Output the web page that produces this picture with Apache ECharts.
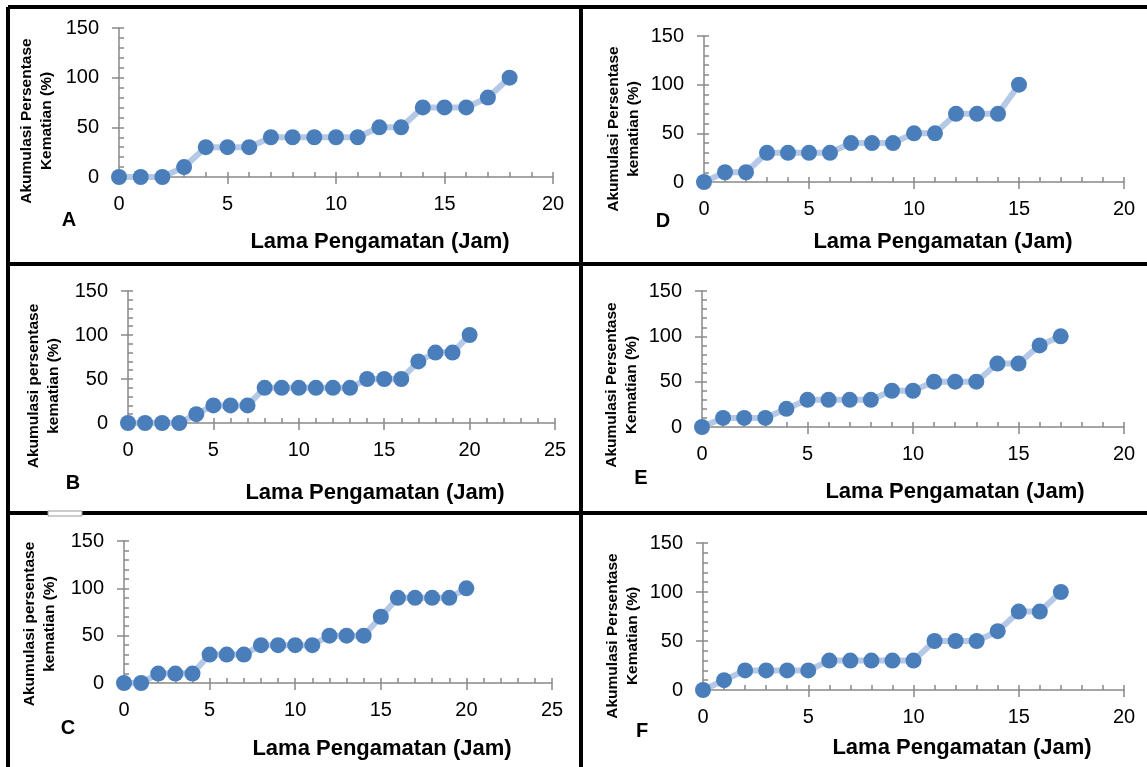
<!DOCTYPE html>
<html><head><meta charset="utf-8">
<script src="https://cdn.jsdelivr.net/npm/echarts@6/dist/echarts.min.js"></script>
<style>html,body{margin:0;padding:0;background:#fff}#c{width:1147px;height:767px}</style>
</head><body><div id="c"></div>
<script>
// ---- data ----
const hoursA = [0,1,2,3,4,5,6,7,8,9,10,11,12,13,14,15,16,17,18];
const deathA = [0,0,0,10,30,30,30,40,40,40,40,40,50,50,70,70,70,80,100];
const hoursB = [0,1,2,3,4,5,6,7,8,9,10,11,12,13,14,15,16,17,18,19,20];
const deathB = [0,0,0,0,10,20,20,20,40,40,40,40,40,40,50,50,50,70,80,80,100];
const hoursC = [0,1,2,3,4,5,6,7,8,9,10,11,12,13,14,15,16,17,18,19,20];
const deathC = [0,0,10,10,10,30,30,30,40,40,40,40,50,50,50,70,90,90,90,90,100];
const hoursD = [0,1,2,3,4,5,6,7,8,9,10,11,12,13,14,15];
const deathD = [0,10,10,30,30,30,30,40,40,40,50,50,70,70,70,100];
const hoursE = [0,1,2,3,4,5,6,7,8,9,10,11,12,13,14,15,16,17];
const deathE = [0,10,10,10,20,30,30,30,30,40,40,50,50,50,70,70,90,100];
const hoursF = [0,1,2,3,4,5,6,7,8,9,10,11,12,13,14,15,16,17];
const deathF = [0,10,20,20,20,20,30,30,30,30,30,50,50,50,60,80,80,100];

const panelLetters = ['A','B','C','D','E','F'];
const xAxisMax = [20,25,25,20,20,20];
const yAxisMax = [150,150,150,150,150,150];
const xTickStep = 5;
const yTickStep = 50;
const xTitle = 'Lama Pengamatan (Jam)';
const yTitles = [
  'Akumulasi Persentase\nKematian (%)',
  'Akumulasi persentase\nkematian (%)',
  'Akumulasi persentase\nkematian (%)',
  'Akumulasi Persentase\nkematian (%)',
  'Akumulasi Persentase\nKematian (%)',
  'Akumulasi Persentase\nKematian (%)'
];
const hoursAll = [hoursA,hoursB,hoursC,hoursD,hoursE,hoursF];
const deathAll = [deathA,deathB,deathC,deathD,deathE,deathF];

// ---- layout (styles/positions) ----
const grids = [
  {left:119, top:28,  width:434, height:149},
  {left:128, top:291, width:427, height:132},
  {left:124, top:541, width:428, height:142},
  {left:704, top:36,  width:420, height:146},
  {left:702, top:291, width:422, height:136},
  {left:703, top:543, width:421, height:147}
];
const xTitlePos = [[380,242],[375,493],[382,749],[943,242],[955,492],[962,748]];
const yTitlePos = [[36.5,121],[44,386],[39.7,624],[624,129],[621.5,385],[623,636]];
const letterPos = [[69,220],[73,483],[68,728],[663,221],[641,478],[642,731]];

const FONT = '"Liberation Sans", Arial, sans-serif';
const AXIS_COLOR = '#898989';
const DOT = '#4A7EBB';
const LINE = '#B5C9E7';

const option = {
  animation:false,
  backgroundColor:'#fff',
  grid:[], xAxis:[], yAxis:[], series:[], graphic:[]
};

for (let i=0;i<6;i++){
  option.grid.push(Object.assign({containLabel:false}, grids[i]));
  const baseX = {type:'value', gridIndex:i, min:0, max:xAxisMax[i], interval:xTickStep, position:'bottom',
    splitLine:{show:false}};
  const baseY = {type:'value', gridIndex:i, min:0, max:yAxisMax[i], interval:yTickStep, position:'left',
    splitLine:{show:false}};
  // primary axes: line, labels, outward major ticks
  option.xAxis.push(Object.assign({}, baseX, {
    axisLine:{show:true, onZero:false, lineStyle:{color:AXIS_COLOR, width:1.5}},
    axisTick:{show:true, inside:false, length:7, lineStyle:{color:AXIS_COLOR, width:1.5}},
    axisLabel:{show:true, margin:17, color:'#000', fontSize:20, fontFamily:FONT}
  }));
  option.yAxis.push(Object.assign({}, baseY, {
    axisLine:{show:true, onZero:false, lineStyle:{color:AXIS_COLOR, width:1.5}},
    axisTick:{show:true, inside:false, length:7, lineStyle:{color:AXIS_COLOR, width:1.5}},
    axisLabel:{show:true, margin:20, color:'#000', fontSize:20, fontFamily:FONT}
  }));
  // secondary axes: inward major + minor ticks
  option.xAxis.push(Object.assign({}, baseX, {
    axisLine:{show:false, onZero:false},
    axisTick:{show:true, inside:true, length:5, lineStyle:{color:AXIS_COLOR, width:1.5}},
    minorTick:{show:true, splitNumber:5, length:5, lineStyle:{color:AXIS_COLOR, width:1.5}},
    axisLabel:{show:false}
  }));
  option.yAxis.push(Object.assign({}, baseY, {
    axisLine:{show:false, onZero:false},
    axisTick:{show:true, inside:true, length:5, lineStyle:{color:AXIS_COLOR, width:1.5}},
    minorTick:{show:true, splitNumber:5, length:5, lineStyle:{color:AXIS_COLOR, width:1.5}},
    axisLabel:{show:false}
  }));
  option.series.push({
    type:'line', xAxisIndex:2*i, yAxisIndex:2*i,
    data: hoursAll[i].map((h,k)=>[h, deathAll[i][k]]),
    symbol:'circle', symbolSize:16,
    lineStyle:{color:LINE, width:6},
    itemStyle:{color:DOT, borderWidth:0},
    z:3
  });
  option.graphic.push({type:'text', x:xTitlePos[i][0], y:xTitlePos[i][1],
    style:{text:xTitle, font:'bold 22px '+FONT, fill:'#000', align:'center', verticalAlign:'middle'}});
  option.graphic.push({type:'text', x:yTitlePos[i][0], y:yTitlePos[i][1], rotation:Math.PI/2,
    style:{text:yTitles[i], font:'bold 15.5px '+FONT, fill:'#000', align:'center', verticalAlign:'middle', lineHeight:20}});
  option.graphic.push({type:'text', x:letterPos[i][0], y:letterPos[i][1],
    style:{text:panelLetters[i], font:'bold 20px '+FONT, fill:'#000', align:'center', verticalAlign:'middle'}});
}

// panel frame lines
const frame = [
  [8,7,1147,7],
  [8,7,8,767],
  [581,7,581,767],
  [8,264,1147,264],
  [8,513,1147,513]
];
frame.forEach(f=>option.graphic.push({type:'line', shape:{x1:f[0],y1:f[1],x2:f[2],y2:f[3]},
  style:{stroke:'#000', lineWidth:4}, z:10}));
option.graphic.push({type:'rect', shape:{x:48,y:511,width:34,height:5}, style:{fill:'#fff', stroke:'#999', lineWidth:1}, z:11});

const chart = echarts.init(document.getElementById('c'), null, {renderer:'canvas'});
chart.setOption(option);
</script>
</body></html>
